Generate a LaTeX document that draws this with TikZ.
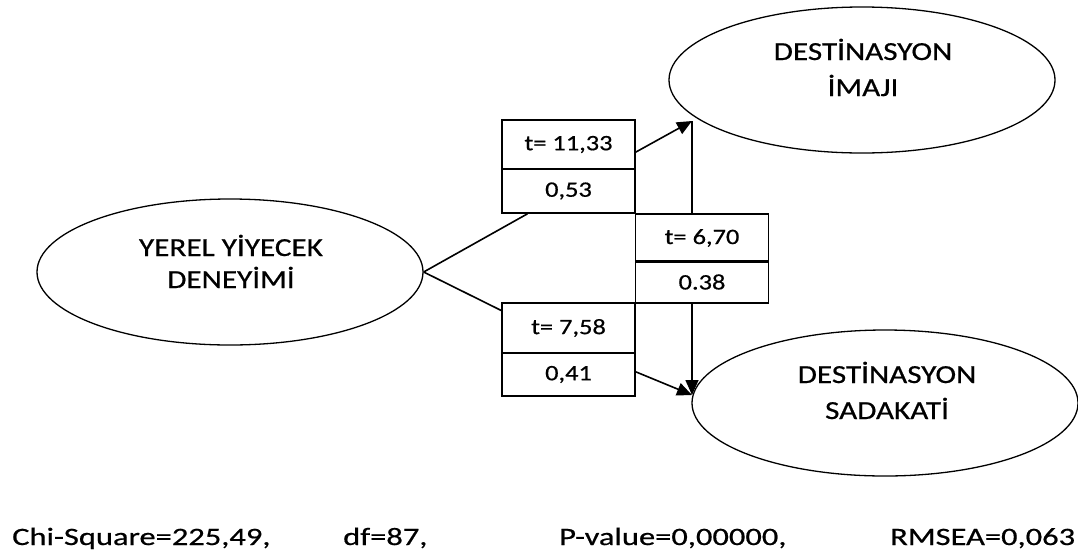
\documentclass[tikz,border=0pt]{standalone}
\usepackage{fontspec}
\setmainfont{Carlito}[FakeStretch=1.2,FakeBold=0.6]
\newfontfamily\statfont{Carlito}[FakeStretch=1.3,FakeBold=0.6]
\usetikzlibrary{shapes.geometric,arrows.meta,calc}
\begin{document}
\begin{tikzpicture}[x=1pt,y=-1pt,
  ell/.style={draw, line width=1.3pt, ellipse, minimum width=386pt, minimum height=146pt, inner sep=0pt},
  lbl/.style={font=\fontsize{26}{33}\selectfont, anchor=base, inner sep=0pt},
  cell/.style={draw, line width=1.6pt, minimum width=133pt, inner sep=0pt, font=\fontsize{22}{26}\selectfont},
  stat/.style={font=\statfont\fontsize{25}{30}\selectfont, anchor=base west, inner sep=0pt},
  conn/.style={line width=1.6pt},
  arr/.style={conn, -{Triangle[length=15pt,width=13pt]}}
]
\useasboundingbox (0,0) rectangle (1078,555);

% ellipses
\node[ell] (L)  at (230,272) {};
\node[ell] (TR) at (862,80) {};
\node[ell] (BR) at (885,403) {};
\node[lbl] (L1)  at (231,256) {YEREL YİYECEK};
\node[lbl] (L2)  at (231,288) {DENEYİMİ};
\node[lbl] (T1)  at (863,60) {DESTİNASYON};
\node[lbl] (T2)  at (863,96) {İMAJI};
\node[lbl] (B1)  at (887,383) {DESTİNASYON};
\node[lbl] (B2)  at (887,419) {SADAKATİ};

% boxes
\node[cell, minimum height=49pt] (b1t) at (568.5,144.5) {t= 11,33};
\node[cell, minimum height=44pt] (b1b) at (568.5,191) {0,53};
\node[cell, minimum height=48pt] (b2t) at (702,238) {t= 6,70};
\node[cell, minimum height=42pt] (b2b) at (702,282) {0.38};
\node[cell, minimum height=50pt] (b3t) at (568.5,328) {t= 7,58};
\node[cell, minimum height=43pt] (b3b) at (568.5,374.5) {0,41};

% connector points
\coordinate (tipTop) at (692,121);
\coordinate (tipBot) at (692,395);

% connectors
\draw[conn] (L.east) -- ($(b1b.south west)!0.195!(b1b.south east)$);
\draw[conn] (L.east) -- ($(b3t.north west)!0.16!(b3t.south west)$);
\draw[arr] ($(b1t.north east)!0.65!(b1t.south east)$) -- (tipTop);
\draw[arr] ($(b3b.north east)!0.44!(b3b.south east)$) -- (tipBot);
\draw[conn] (tipTop) -- (b2t.north -| tipTop);
\draw[arr] (b2b.south -| tipBot) -- (tipBot);

% statistics
\node[stat] (s1) at (12,545) {Chi-Square=225,49,};
\node[stat] (s2) at (343,545) {df=87,};
\node[stat] (s3) at (559,545) {P-value=0,00000,};
\node[stat] (s4) at (890,545) {RMSEA=0,063};
\end{tikzpicture}
\end{document}
